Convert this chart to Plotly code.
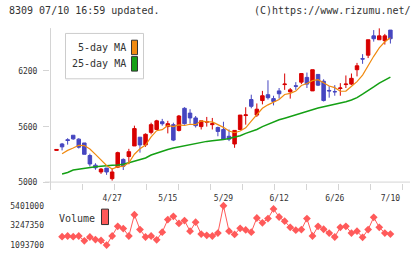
import plotly.graph_objects as go

W, H = 420, 259

# ---------------- data ----------------
idx = list(range(61))
opens = [5345, 5414, 5460, 5508, 5466, 5425, 5290, 5186, 5113, 5155,
         5041, 5165, 5248, 5279, 5393, 5487, 5404, 5539, 5570, 5653,
         5601, 5622, 5560, 5798, 5746, 5694, 5601, 5648, 5622, 5591,
         5570, 5497, 5414, 5570, 5720, 5892, 5725, 5881, 5944, 5902,
         5985, 6053, 5975, 6040, 6079, 6130, 5985, 6162, 6089, 5990,
         5978, 6011, 6053, 6058, 6213, 6331, 6369, 6577, 6535, 6525,
         6639]
closes = [5355, 5383, 5452, 5469, 5380, 5303, 5199, 5158, 5144, 5113,
          5113, 5321, 5175, 5331, 5580, 5404, 5518, 5622, 5663, 5632,
          5632, 5456, 5715, 5632, 5694, 5611, 5663, 5655, 5632, 5549,
          5466, 5466, 5560, 5725, 5727, 5819, 5788, 5933, 5912, 5871,
          5954, 6058, 5996, 6035, 6172, 6058, 6213, 6047, 5881, 5985,
          5975, 6016, 6058, 6120, 6255, 6328, 6535, 6546, 6577, 6577,
          6546]
highs = [5355, 5425, 5476, 5508, 5476, 5425, 5310, 5207, 5155, 5155,
         5155, 5331, 5259, 5362, 5611, 5487, 5528, 5643, 5674, 5684,
         5663, 5643, 5726, 5809, 5788, 5715, 5663, 5705, 5694, 5601,
         5653, 5570, 5560, 5725, 5809, 5944, 5850, 5985, 6099, 5933,
         6016, 6172, 6016, 6079, 6172, 6182, 6213, 6162, 6110, 6037,
         6047, 6068, 6151, 6172, 6286, 6380, 6535, 6639, 6660, 6598,
         6639]
lows = [5345, 5345, 5407, 5459, 5365, 5303, 5172, 5137, 5092, 5082,
        5020, 5155, 5134, 5196, 5393, 5321, 5383, 5518, 5570, 5611,
        5528, 5445, 5549, 5622, 5632, 5591, 5570, 5601, 5570, 5497,
        5466, 5445, 5373, 5570, 5622, 5798, 5705, 5840, 5892, 5829,
        5902, 5996, 5902, 5996, 6058, 6016, 5985, 6037, 5871, 5912,
        5933, 5933, 6016, 6047, 6141, 6276, 6338, 6515, 6535, 6483,
        6494]

ma_idx = list(range(1, 61))
ma5 = [5310, 5345, 5370, 5400, 5397, 5360, 5302, 5237, 5183, 5145,
       5170, 5173, 5211, 5304, 5362, 5402, 5491, 5557, 5568, 5613,
       5601, 5620, 5613, 5626, 5622, 5663, 5651, 5651, 5622, 5593,
       5553, 5535, 5553, 5588, 5659, 5723, 5798, 5835, 5865, 5892,
       5946, 5958, 5983, 6043, 6064, 6095, 6105, 6074, 6037, 6020,
       5981, 5983, 6031, 6085, 6155, 6259, 6357, 6448, 6513, 6556]
ma25 = [5092, 5108, 5134, 5144, 5152, 5162, 5170, 5175, 5183, 5186,
        5189, 5196, 5212, 5227, 5245, 5264, 5295, 5316, 5336, 5354,
        5370, 5383, 5393, 5404, 5416, 5432, 5442, 5449, 5454, 5461,
        5473, 5490, 5502, 5528, 5549, 5570, 5601, 5627, 5648, 5674,
        5691, 5710, 5726, 5746, 5764, 5785, 5800, 5814, 5826, 5838,
        5855, 5869, 5887, 5912, 5949, 5985, 6027, 6068, 6099, 6134]

volume = [2012000, 2082000, 2012000, 2082000, 1553000, 1976000, 1694000, 1588000, 1093700, 2082000,
          3141000, 2894000, 2082000, 4412000, 2788000, 1976000, 2082000, 1659000, 2506000, 3883000,
          4236000, 3459000, 3777000, 2612000, 3600000, 2294000, 2153000, 2082000, 2400000, 5401000,
          2612000, 2259000, 2930000, 2753000, 2506000, 4059000, 3530000, 3989000, 5048000, 4165000,
          3706000, 3035000, 2718000, 2788000, 3989000, 2082000, 3141000, 2824000, 2400000, 1976000,
          3035000, 3141000, 2400000, 2612000, 1941000, 2788000, 4130000, 3035000, 2400000, 2294000]

date_pos = [10, 20, 30, 40, 50, 60]
date_labels = ["4/27", "5/15", "5/29", "6/12", "6/26", "7/10"]
price_ticks = [5000, 5600, 6200]
vol_ticks = [1093700, 3247350, 5401000]
vol_tick_labels = ["1093700", "3247350", "5401000"]

# ---------------- layout helpers (pixel -> paper) ----------------
def px(x):
    return x / W

def py(y):
    return 1 - y / H

X0, X1 = 50, 410
CX0, DX = 56.5, 5.565
xr = [-(CX0 - X0) / DX, -(CX0 - X0) / DX + (X1 - X0) / DX]

MONO = "DejaVu Sans Mono"
TXT = "#333333"
AX = "#d4d4d4"
RED = "#d80000"
BLUE = "#4646c0"
VOLC = "#ff5a5a"

fig = go.Figure()

fig.add_trace(go.Candlestick(
    x=idx, open=opens, high=highs, low=lows, close=closes,
    increasing=dict(line=dict(color=RED, width=1), fillcolor=RED),
    decreasing=dict(line=dict(color=BLUE, width=1), fillcolor=BLUE),
    whiskerwidth=0, xaxis="x", yaxis="y", showlegend=False, hoverinfo="skip"))

fig.add_trace(go.Scatter(x=ma_idx, y=ma25, mode="lines",
                         line=dict(color="#14a014", width=1.5),
                         xaxis="x", yaxis="y", showlegend=False, hoverinfo="skip"))
fig.add_trace(go.Scatter(x=ma_idx, y=ma5, mode="lines",
                         line=dict(color="#f08a10", width=1.2),
                         xaxis="x", yaxis="y", showlegend=False, hoverinfo="skip"))

fig.add_trace(go.Scatter(x=ma_idx, y=volume, mode="lines+markers",
                         line=dict(color=VOLC, width=1),
                         marker=dict(symbol="diamond", size=6, color=VOLC),
                         cliponaxis=False,
                         xaxis="x2", yaxis="y2", showlegend=False, hoverinfo="skip"))

main_dom_y = [py(185), py(25)]
vol_dom_y = [py(249.7), py(209)]
dom_x = [px(X0), px(X1)]

tickfont = dict(family=MONO, size=8, color=TXT)

fig.update_layout(
    width=W, height=H,
    margin=dict(l=0, r=0, t=0, b=0),
    paper_bgcolor="white", plot_bgcolor="white",
    boxgap=0.1,
    xaxis=dict(domain=dom_x, range=xr, anchor="y", showgrid=False, zeroline=False,
               showline=False, rangeslider=dict(visible=False),
               tickmode="linear", tick0=4.64, dtick=5.75,
               ticks="outside", ticklen=6, tickcolor=AX, tickwidth=1,
               showticklabels=False),
    xaxis3=dict(domain=dom_x, range=xr, anchor="y", overlaying="x", showgrid=False,
                zeroline=False, showline=False,
                tickmode="linear", tick0=4.64, dtick=5.75,
                ticks="inside", ticklen=3, tickcolor=AX, tickwidth=1,
                showticklabels=False),
    yaxis=dict(domain=main_dom_y, range=[4999, 6660], anchor="x", showgrid=False,
               zeroline=False, showline=False,
               tickvals=price_ticks, ticks="outside", ticklen=6, tickcolor=AX,
               tickfont=tickfont, ticklabelstandoff=4),
    yaxis3=dict(domain=main_dom_y, range=[4999, 6660], anchor="x", overlaying="y",
                showgrid=False, zeroline=False, showline=False,
                tickvals=price_ticks, ticks="inside", ticklen=4, tickcolor=AX,
                showticklabels=False),
    xaxis2=dict(domain=dom_x, range=xr, anchor="y2", side="top", showgrid=False,
                zeroline=False, showline=False, ticks="",
                tickvals=date_pos, ticktext=date_labels, tickfont=tickfont,
                ticklabelstandoff=2),
    yaxis2=dict(domain=vol_dom_y, range=[1093700, 5401000], anchor="x2",
                showgrid=False, zeroline=False, showline=False, ticks="",
                tickvals=vol_ticks, ticktext=vol_tick_labels, tickfont=tickfont,
                ticklabelstandoff=5),
)

shapes = [
    dict(type="line", xref="paper", yref="paper", x0=px(50.5), x1=px(50.5),
         y0=py(25), y1=py(190), line=dict(color=AX, width=1)),
    dict(type="line", xref="paper", yref="paper", x0=px(45), x1=px(X1),
         y0=py(184.5), y1=py(184.5), line=dict(color=AX, width=1)),
    # legend box
    dict(type="rect", xref="paper", yref="paper", x0=px(65.5), x1=px(143.5),
         y0=py(30.5), y1=py(77.5), line=dict(color="#cccccc", width=1),
         fillcolor="white"),
    dict(type="rect", xref="paper", yref="paper", x0=px(131.5), x1=px(137.5),
         y0=py(37.5), y1=py(52.5), line=dict(color="#333333", width=1),
         fillcolor="#f08a10"),
    dict(type="rect", xref="paper", yref="paper", x0=px(131.5), x1=px(137.5),
         y0=py(54.5), y1=py(69.5), line=dict(color="#333333", width=1),
         fillcolor="#14a014"),
    dict(type="rect", xref="paper", yref="paper", x0=px(101.5), x1=px(108.5),
         y0=py(212.5), y1=py(228.5), line=dict(color="#333333", width=1),
         fillcolor=VOLC),
]
fig.update_layout(shapes=shapes)

ann_font = dict(family=MONO, size=10, color=TXT)
anns = [
    dict(text="8309 07/10 16:59 updated.", x=px(8), y=py(7), xanchor="left",
         yanchor="middle", font=ann_font),
    dict(text="(C)https://www.rizumu.net/", x=px(412), y=py(7), xanchor="right",
         yanchor="middle", font=ann_font),
    dict(text="5-day MA", x=px(127), y=py(45), xanchor="right", yanchor="middle",
         font=ann_font),
    dict(text="25-day MA", x=px(127), y=py(61.5), xanchor="right", yanchor="middle",
         font=ann_font),
    dict(text="Volume", x=px(58), y=py(222), xanchor="left", yanchor="middle",
         font=ann_font),
]
for a in anns:
    a.update(xref="paper", yref="paper", showarrow=False, xshift=0, borderpad=0)
fig.update_layout(annotations=anns)

fig.write_html("out.html")
